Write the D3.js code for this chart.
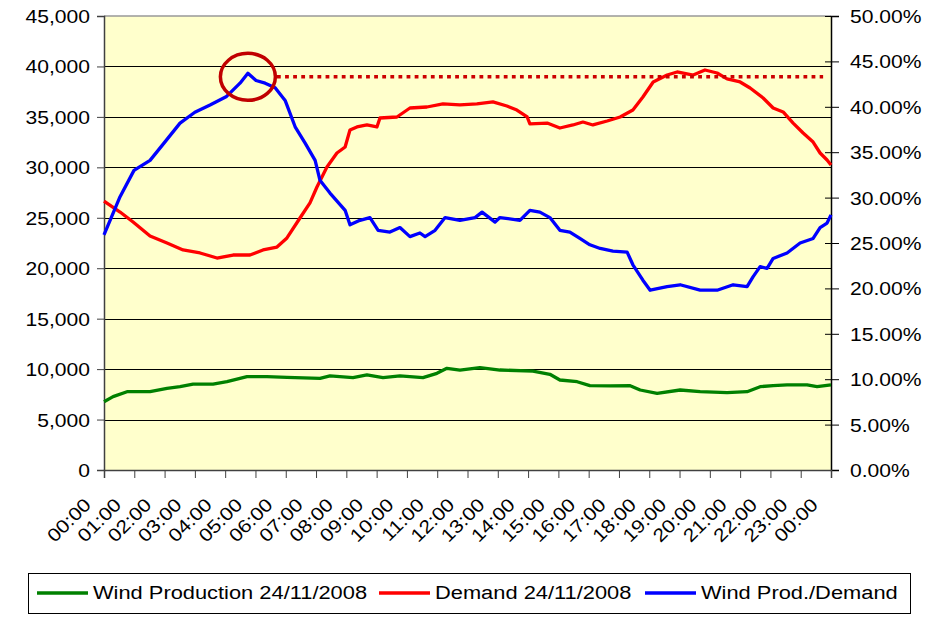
<!DOCTYPE html>
<html>
<head>
<meta charset="utf-8">
<script src="https://cdn.jsdelivr.net/npm/d3@7/dist/d3.min.js"></script>
<style>
  body { margin: 0; background: #fff; }
  text { font-family: "Liberation Sans", Arial, sans-serif; fill: #000; }
</style>
</head>
<body>
<div id="chart"></div>
<script>
// hour labels on the x axis (00:00 .. 00:00 next day)
const hourLabels = d3.range(25).map((h) => String(h % 24).padStart(2, "0") + ":00");
const leftTicks = [0, 5000, 10000, 15000, 20000, 25000, 30000, 35000, 40000, 45000];
const rightTicks = [0, 5, 10, 15, 20, 25, 30, 35, 40, 45, 50];

const seriesNames = ["Wind Production 24/11/2008", "Demand 24/11/2008", "Wind Prod./Demand"];
const seriesColors = ["#008000", "#ff0000", "#0000ff"];

// [hour, MW]
const windProd = [
  [0, 6770], [0.3, 7270], [0.76, 7760], [1.52, 7760], [2.08, 8100], [2.51, 8260],
  [2.94, 8520], [3.6, 8520], [4.06, 8750], [4.72, 9250], [5.38, 9250], [6.04, 9190],
  [7.13, 9090], [7.46, 9320], [8.22, 9150], [8.68, 9420], [9.21, 9150], [9.77, 9320],
  [10.53, 9150], [10.99, 9580], [11.32, 10080], [11.75, 9910], [12.41, 10140], [13.07, 9910],
  [14.16, 9810], [14.72, 9490], [15.05, 8920], [15.62, 8750], [16.04, 8360], [16.71, 8330],
  [17.37, 8360], [17.7, 7930], [18.26, 7600], [19.02, 7930], [19.68, 7760], [20.57, 7660],
  [21.23, 7760], [21.66, 8260], [22.09, 8360], [22.55, 8430], [23.21, 8430], [23.54, 8260],
  [24, 8430]
];

// [hour, MW]
const demand = [
  [0, 26660], [0.53, 25570], [0.96, 24580], [1.52, 23190], [2.08, 22500], [2.61, 21810],
  [3.17, 21510], [3.73, 21010], [4.26, 21310], [4.82, 21310], [5.25, 21810], [5.71, 22100],
  [6.04, 23000], [6.47, 24980], [6.8, 26470], [7.03, 28050], [7.36, 30040], [7.69, 31420],
  [7.96, 32020], [8.12, 33700], [8.35, 34000], [8.68, 34200], [9.01, 34000], [9.11, 34890],
  [9.67, 34990], [10.1, 35880], [10.66, 35980], [11.19, 36280], [11.75, 36190], [12.31, 36280],
  [12.84, 36480], [13.3, 36080], [13.63, 35680], [13.97, 34990], [14.06, 34300], [14.63, 34390],
  [15.05, 33900], [15.48, 34200], [15.81, 34490], [16.14, 34200], [16.61, 34590], [17.04, 34990],
  [17.46, 35680], [17.79, 36970], [18.13, 38460], [18.59, 39150], [18.92, 39450], [19.45, 39150],
  [19.84, 39650], [20.24, 39350], [20.57, 38760], [21.0, 38460], [21.33, 37860], [21.76, 36870],
  [22.09, 35880], [22.42, 35490], [22.75, 34390], [23.08, 33400], [23.41, 32510], [23.64, 31420],
  [23.87, 30730], [24, 30230]
];

// [hour, %]
const ratio = [
  [0, 25.9], [0.53, 30.1], [0.99, 33.0], [1.52, 34.1], [1.98, 36.0], [2.51, 38.2],
  [3.0, 39.4], [3.5, 40.2], [4.03, 41.1], [4.49, 42.6], [4.75, 43.7], [5.02, 42.9],
  [5.32, 42.6], [5.65, 42.1], [5.98, 40.7], [6.31, 37.8], [6.64, 36.0], [6.97, 34.1],
  [7.13, 31.9], [7.46, 30.5], [7.96, 28.6], [8.12, 27.0], [8.45, 27.5], [8.78, 27.8],
  [9.05, 26.4], [9.44, 26.2], [9.77, 26.7], [10.1, 25.7], [10.43, 26.1], [10.6, 25.7],
  [10.93, 26.4], [11.26, 27.8], [11.75, 27.5], [12.25, 27.8], [12.48, 28.4], [12.91, 27.3],
  [13.07, 27.8], [13.73, 27.5], [14.06, 28.6], [14.39, 28.4], [14.72, 27.8], [15.05, 26.4],
  [15.38, 26.2], [15.71, 25.5], [16.04, 24.8], [16.38, 24.4], [16.8, 24.1], [17.27, 24.0],
  [17.46, 22.6], [17.79, 20.9], [18.03, 19.8], [18.59, 20.2], [19.02, 20.4], [19.68, 19.8],
  [20.24, 19.8], [20.77, 20.4], [21.23, 20.2], [21.43, 21.3], [21.66, 22.4], [21.89, 22.2],
  [22.09, 23.3], [22.55, 23.9], [22.98, 25.0], [23.41, 25.5], [23.64, 26.7], [23.87, 27.2],
  [24, 28.1]
];

// peak marker: circle around the max ratio and dotted level line
const peakHour = 4.75;
const peakLevel = 43.3;
const levelLineHours = [5.71, 23.74];

const width = 929, height = 618;
const margin = { left: 104, right: 98, top: 16, bottom: 148 };
const sx = 1.14; // fonts look horizontally stretched in the original

const svg = d3.select("#chart").append("svg")
  .attr("width", width).attr("height", height);

const x = d3.scaleLinear().domain([0, 24]).range([margin.left, width - margin.right]);
const yL = d3.scaleLinear().domain([0, 45000]).range([height - margin.bottom, margin.top]);
const yR = d3.scaleLinear().domain([0, 50]).range([height - margin.bottom, margin.top]);

// plot background
svg.append("rect")
  .attr("x", x(0)).attr("y", yL(45000))
  .attr("width", x(24) - x(0)).attr("height", yL(0) - yL(45000))
  .attr("fill", "#ffffcc");

// gridlines
svg.append("g").selectAll("line")
  .data(leftTicks.filter((d) => d > 0 && d < 45000))
  .join("line")
  .attr("x1", x(0)).attr("x2", x(24))
  .attr("y1", (d) => Math.round(yL(d)) + 0.5).attr("y2", (d) => Math.round(yL(d)) + 0.5)
  .attr("stroke", "#000").attr("stroke-width", 1);

// top border
svg.append("line")
  .attr("x1", x(0)).attr("x2", x(24))
  .attr("y1", yL(45000)).attr("y2", yL(45000))
  .attr("stroke", "#999").attr("stroke-width", 1.5);

// left axis
const gL = svg.append("g").attr("transform", `translate(${x(0)},0)`)
  .call(d3.axisLeft(yL).tickValues(leftTicks).tickFormat(d3.format(",")).tickSize(7));
gL.select(".domain").attr("stroke", "#404040").attr("stroke-width", 1.5);
gL.selectAll(".tick line").attr("stroke", "#404040");
gL.selectAll(".tick text")
  .attr("x", null).attr("dy", "0.35em")
  .attr("transform", `translate(-14,0) scale(${sx},1)`)
  .style("font-size", "18.5px").attr("fill", "#000");

// right axis
const gR = svg.append("g").attr("transform", `translate(${x(24)},0)`)
  .call(d3.axisRight(yR).tickValues(rightTicks).tickFormat((d) => d3.format(".2%")(d / 100)).tickSize(8));
gR.select(".domain").attr("stroke", "#000").attr("stroke-width", 1.5);
gR.selectAll(".tick line").attr("x1", -6).attr("x2", 8).attr("stroke", "#000");
gR.selectAll(".tick text")
  .attr("x", null).attr("dy", "0.35em")
  .attr("transform", `translate(19,0) scale(${sx},1)`)
  .style("font-size", "18.5px").attr("fill", "#000");

// bottom axis
const gB = svg.append("g").attr("transform", `translate(0,${yL(0)})`)
  .call(d3.axisBottom(x).tickValues(d3.range(25)).tickFormat("").tickSize(8));
gB.select(".domain").attr("stroke", "#404040").attr("stroke-width", 1.5);
gB.selectAll(".tick line").attr("stroke", "#404040");

svg.append("g").selectAll("text")
  .data(hourLabels)
  .join("text")
  .attr("transform", (d, i) => `translate(${x(i) - 12},${yL(0) + 36}) rotate(-45) scale(${sx},1)`)
  .attr("text-anchor", "end")
  .style("font-size", "18.5px")
  .text((d) => d);

// series lines
const lineL = d3.line().x((d) => x(d[0])).y((d) => yL(d[1]));
const lineR = d3.line().x((d) => x(d[0])).y((d) => yR(d[1]));
const plot = svg.append("g");
[[windProd, lineL], [demand, lineL], [ratio, lineR]].forEach(([data, gen], i) => {
  plot.append("path")
    .datum(data)
    .attr("d", gen)
    .attr("fill", "none")
    .attr("stroke", seriesColors[i])
    .attr("stroke-width", 3.3)
    .attr("stroke-linejoin", "round");
});

// peak annotation
svg.append("line")
  .attr("x1", x(levelLineHours[0])).attr("x2", x(levelLineHours[1]))
  .attr("y1", yR(peakLevel)).attr("y2", yR(peakLevel))
  .attr("stroke", "#cc0000").attr("stroke-width", 3.5)
  .attr("stroke-dasharray", "3.8 4.3");
svg.append("ellipse")
  .attr("cx", x(peakHour)).attr("cy", yR(peakLevel))
  .attr("rx", 27.5).attr("ry", 23.5)
  .attr("fill", "none").attr("stroke", "#c00000").attr("stroke-width", 3.5);

// legend
const legend = svg.append("g");
legend.append("rect")
  .attr("x", 28.5).attr("y", 573.5).attr("width", 882).attr("height", 40)
  .attr("fill", "#fff").attr("stroke", "#000").attr("stroke-width", 1);
const legendX = [37, 379, 645];
seriesNames.forEach((name, i) => {
  legend.append("line")
    .attr("x1", legendX[i]).attr("x2", legendX[i] + 51)
    .attr("y1", 593).attr("y2", 593)
    .attr("stroke", seriesColors[i]).attr("stroke-width", 3.5);
  legend.append("text")
    .attr("transform", `translate(${legendX[i] + 56},599) scale(1.15,1)`)
    .style("font-size", "19px")
    .text(name);
});
</script>
</body>
</html>
